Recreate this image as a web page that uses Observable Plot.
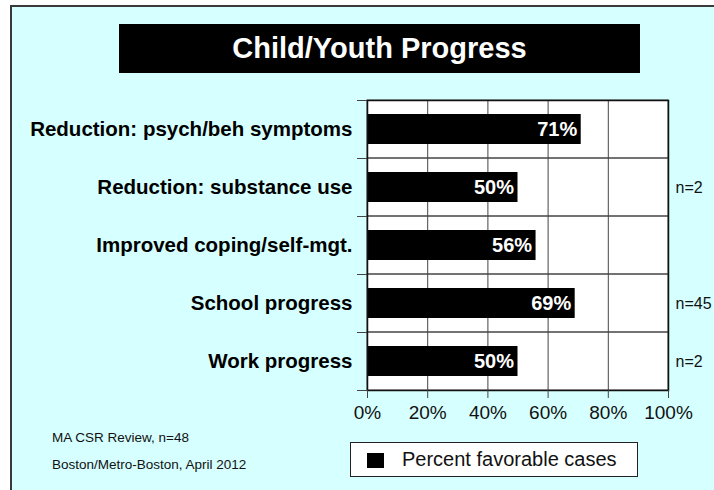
<!DOCTYPE html>
<html>
<head>
<meta charset="utf-8">
<script src="https://cdn.jsdelivr.net/npm/d3@7"></script>
<script src="https://cdn.jsdelivr.net/npm/@observablehq/plot@0.6"></script>
<style>
  html, body { margin: 0; padding: 0; background: #ffffff; width: 714px; height: 490px; overflow: hidden; }
  body { position: relative; font-family: "Liberation Sans", Arial, Helvetica, sans-serif; }
  #frame { position: absolute; left: 10px; top: 5px; width: 720px; height: 500px; background: #d6ffff; border: 2px solid #3a3a3a; box-sizing: border-box; }
  #title { position: absolute; left: 119px; top: 24px; width: 521px; height: 49px; background: #000; color: #fff;
           font-weight: bold; font-size: 29px; line-height: 49px; text-align: center; }
  #chart { position: absolute; left: 0; top: 0; }
  .foot { position: absolute; left: 52px; font-size: 13.5px; color: #111; line-height: 1; }
  #legend { position: absolute; left: 350px; top: 442px; width: 288px; height: 35px; background: #fff; border: 1.5px solid #222; box-sizing: border-box; }
  #legend .sw { position: absolute; left: 16px; top: 10px; width: 17px; height: 15px; background: #000; }
  #legend .lt { position: absolute; left: 51px; top: 5px; font-size: 20px; line-height: 1.1; color: #111; }
</style>
</head>
<body>
<div id="frame"></div>
<div id="title"></div>
<div id="chart"></div>
<div class="foot" id="foot1" style="top:431px"></div>
<div class="foot" id="foot2" style="top:458px"></div>
<div id="legend"><div class="sw"></div><div class="lt"></div></div>
<script>
const titleText = "Child/Youth Progress";
const categories = [
  "Reduction: psych/beh symptoms",
  "Reduction: substance use",
  "Improved coping/self-mgt.",
  "School progress",
  "Work progress"
];
const values = [71, 50, 56, 69, 50];
const nLabels = ["", "n=2", "", "n=45", "n=2"];
const xTicks = [0, 20, 40, 60, 80, 100];
const gridTicks = [20, 40, 60, 80];
const legendLabel = "Percent favorable cases";
const footLines = ["MA CSR Review, n=48", "Boston/Metro-Boston, April 2012"];

document.getElementById("title").textContent = titleText;
document.getElementById("foot1").textContent = footLines[0];
document.getElementById("foot2").textContent = footLines[1];
document.querySelector("#legend .lt").textContent = legendLabel;

const data = categories.map((c, i) => ({label: c, value: values[i], n: nLabels[i]}));

const chart = Plot.plot({
  width: 714,
  height: 490,
  marginLeft: 367,
  marginRight: 46,
  marginTop: 100,
  marginBottom: 100,
  style: {background: "transparent", fontFamily: "'Liberation Sans', Arial, Helvetica, sans-serif", color: "#111"},
  x: {domain: [0, 100]},
  y: {domain: categories, padding: 0},
  marks: [
    Plot.frame({fill: "white", stroke: "none"}),
    Plot.gridX(gridTicks, {stroke: "#444", strokeOpacity: 1, strokeWidth: 1}),
    Plot.barX(categories, {x1: 0, x2: 100, y: d => d, fill: "none", stroke: "#444", strokeWidth: 1}),
    Plot.barX(data, {x: "value", y: "label", fill: "black", insetTop: 14, insetBottom: 14}),
    Plot.frame({stroke: "#111", strokeWidth: 1.5}),
    Plot.text(data, {x: "value", y: "label", text: d => d.value + "%", textAnchor: "end", dx: -4,
      fill: "white", fontWeight: "bold", fontSize: 20}),
    Plot.text(data, {x: () => 100, y: "label", text: "n", textAnchor: "start", dx: 7, fill: "#111", fontSize: 16}),
    Plot.axisY({tickSize: 0, tickPadding: 15, fontSize: 20.5, fontWeight: "bold", fill: "#000", label: null}),
    Plot.axisY({tickSize: 10, tickFormat: () => "", dy: -29, stroke: "#444", label: null}),
    Plot.axisY({tickSize: 10, tickFormat: () => "", dy: 29, stroke: "#444", label: null}),
    Plot.axisX(xTicks, {tickSize: 8, tickPadding: 7, tickFormat: d => d + "%", fontSize: 19,
      stroke: "#444", fill: "#111", label: null})
  ]
});
document.getElementById("chart").appendChild(chart);
</script>
</body>
</html>
